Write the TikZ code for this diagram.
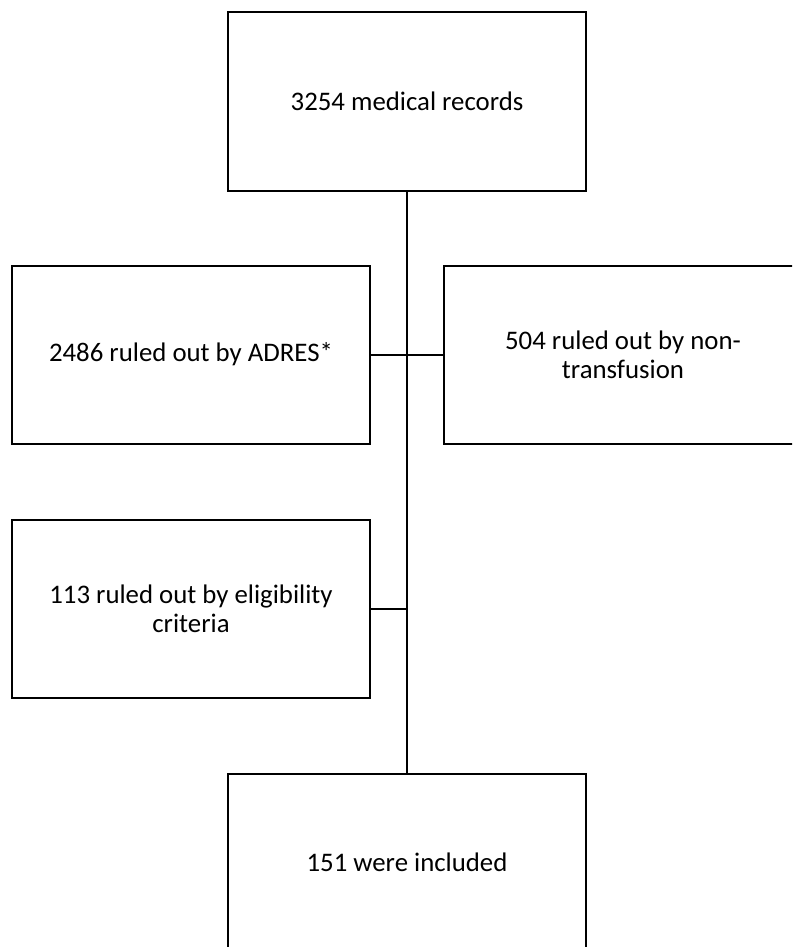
\documentclass[tikz,border=0pt]{standalone}
\usepackage{fontspec}
\setmainfont{Carlito}
\usepackage{tikz}
\usetikzlibrary{positioning,calc}
\tikzset{
  flowbox/.style ={draw=black, line width=1pt, fill=white, align=center,
                   font=\fontsize{13.4}{14.6}\selectfont, inner sep=2pt,
                   minimum width=179pt, minimum height=89pt},
  ln/.style      ={draw=black, line width=1pt},
}

\begin{document}
\begin{tikzpicture}[x=0.5pt,y=-0.5pt]
\path[use as bounding box, clip] (0,0) rectangle (792,947);

% boxes
\node[flowbox] (records) at (407,101.5) {3254 medical records};
\node[flowbox] (adres)   at (191,354.5) {2486 ruled out by ADRES*};
\node[flowbox] (nontr)   at (623,354.5) {504 ruled out by non-\\transfusion};
\node[flowbox] (elig)    at (191,608.5) {113 ruled out by eligibility\\criteria};
\node[flowbox] (incl)    at (407,862.5) {151 were included};

% connectors
\draw[ln] (records.south) -- (incl.north);
\draw[ln] (adres.east) -- (nontr.west);
\draw[ln] (elig.east) -- (elig.east -| records.south);
\end{tikzpicture}
\end{document}
